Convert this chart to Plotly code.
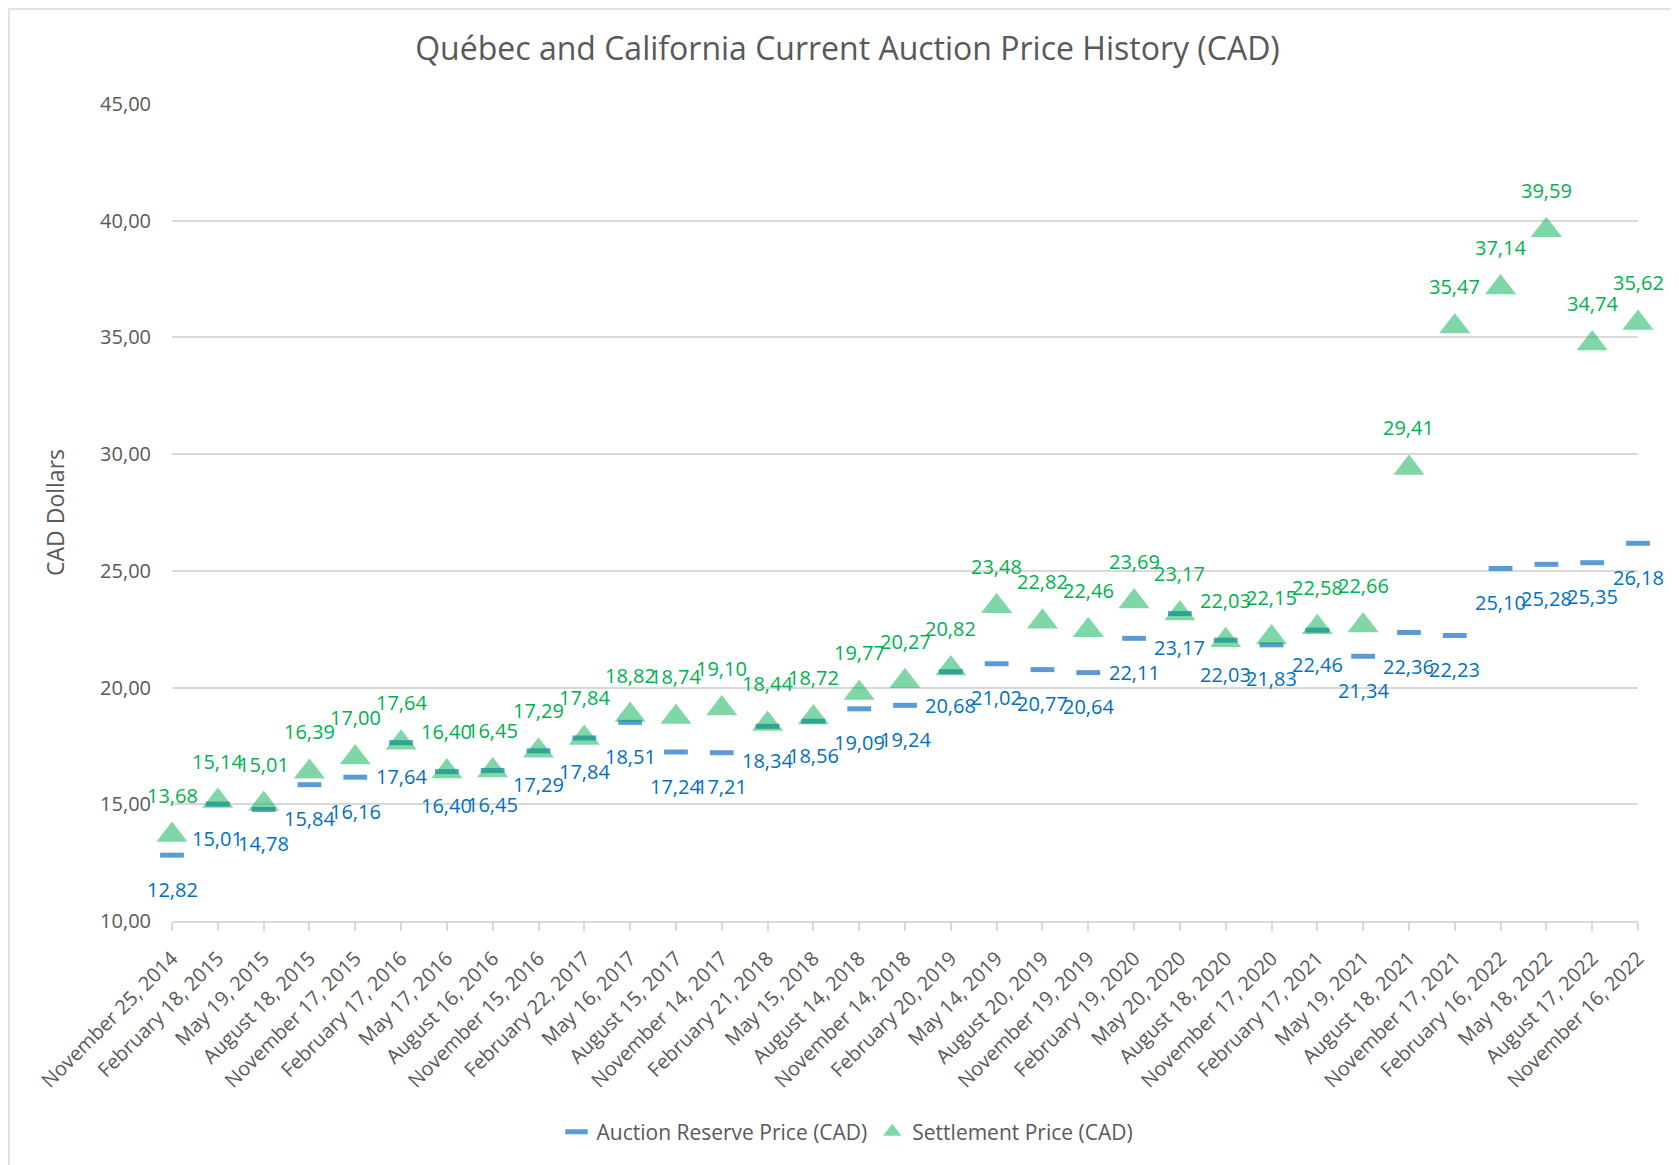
import plotly.graph_objects as go

dates = [
    "November 25, 2014", "February 18, 2015", "May 19, 2015", "August 18, 2015",
    "November 17, 2015", "February 17, 2016", "May 17, 2016", "August 16, 2016",
    "November 15, 2016", "February 22, 2017", "May 16, 2017", "August 15, 2017",
    "November 14, 2017", "February 21, 2018", "May 15, 2018", "August 14, 2018",
    "November 14, 2018", "February 20, 2019", "May 14, 2019", "August 20, 2019",
    "November 19, 2019", "February 19, 2020", "May 20, 2020", "August 18, 2020",
    "November 17, 2020", "February 17, 2021", "May 19, 2021", "August 18, 2021",
    "November 17, 2021", "February 16, 2022", "May 18, 2022", "August 17, 2022",
    "November 16, 2022",
]

reserve_price = [
    12.82, 15.01, 14.78, 15.84, 16.16, 17.64, 16.40, 16.45, 17.29, 17.84,
    18.51, 17.24, 17.21, 18.34, 18.56, 19.09, 19.24, 20.68, 21.02, 20.77,
    20.64, 22.11, 23.17, 22.03, 21.83, 22.46, 21.34, 22.36, 22.23, 25.10,
    25.28, 25.35, 26.18,
]

settlement_price = [
    13.68, 15.14, 15.01, 16.39, 17.00, 17.64, 16.40, 16.45, 17.29, 17.84,
    18.82, 18.74, 19.10, 18.44, 18.72, 19.77, 20.27, 20.82, 23.48, 22.82,
    22.46, 23.69, 23.17, 22.03, 22.15, 22.58, 22.66, 29.41, 35.47, 37.14,
    39.59, 34.74, 35.62,
]

FONT = "Open Sans"
GREY = "#595959"
RES_COLOR = "#5B9BD5"
RES_LABEL = "#0070C0"
SET_COLOR = "#00B050"


def fmt(v):
    return f"{v:.2f}".replace(".", ",")


fig = go.Figure()

fig.add_trace(go.Scatter(
    x=dates, y=reserve_price, mode="markers",
    name="Auction Reserve Price (CAD)", cliponaxis=False,
    marker=dict(symbol="line-ew", size=17, color=RES_COLOR,
                line=dict(color=RES_COLOR, width=5)),
))

fig.add_trace(go.Scatter(
    x=dates, y=settlement_price, mode="markers",
    name="Settlement Price (CAD)", cliponaxis=False,
    marker=dict(symbol="triangle-up", size=27, color=SET_COLOR, opacity=0.5,
                line=dict(width=0)),
))

annotations = []
for d, v in zip(dates, reserve_price):
    annotations.append(dict(
        x=d, y=v, xref="x", yref="y", text=fmt(v), showarrow=False,
        yshift=-34, yanchor="middle", xanchor="center",
        font=dict(family=FONT, size=20, color=RES_LABEL),
    ))
for d, v in zip(dates, settlement_price):
    annotations.append(dict(
        x=d, y=v, xref="x", yref="y", text=fmt(v), showarrow=False,
        yshift=40, yanchor="middle", xanchor="center",
        font=dict(family=FONT, size=20, color=SET_COLOR),
    ))

# page has an 8px body margin; target plot area in page pixels: x 172..1638, y 104..921
OFF = 8
L, R, T, B = 172 - OFF, 41 + OFF, 104 - OFF, 244 + OFF
W, H = 1679, 1165
pw = W - L - R
ph = H - T - B

fig.update_layout(
    width=W, height=H,
    margin=dict(l=L, r=R, t=T, b=B, autoexpand=False),
    paper_bgcolor="white", plot_bgcolor="white",
    separators=",.",
    font=dict(family=FONT, size=20, color=GREY),
    title=dict(
        text="Québec and California Current Auction Price History (CAD)",
        x=0.5, xref="container", xanchor="center",
        y=1 - (49 - OFF) / H, yref="container", yanchor="middle",
        font=dict(family=FONT, size=32, color=GREY),
    ),
    xaxis=dict(
        type="category", range=[0, len(dates) - 1],
        tickangle=-45, tickfont=dict(family=FONT, size=20, color=GREY),
        showgrid=False, showline=True, linecolor="#D9D9D9", linewidth=1.5,
        ticks="outside", ticklen=8, tickcolor="#D9D9D9", tickwidth=1.5,
        zeroline=False, ticklabelstandoff=8,
    ),
    yaxis=dict(
        range=[10, 45], dtick=5, tick0=10, tickformat=".2f",
        showgrid=True, gridcolor="#D9D9D9", gridwidth=1.5,
        zeroline=False, showline=False,
        tickfont=dict(family=FONT, size=20, color=GREY),
        ticklabelstandoff=20,
        title=dict(text="CAD Dollars", standoff=29,
                   font=dict(family=FONT, size=23, color=GREY)),
    ),
    legend=dict(
        orientation="h", x=0.5, xref="container", xanchor="center",
        y=1 - (1132 - OFF) / H, yref="container", yanchor="middle",
        font=dict(family=FONT, size=21, color=GREY),
        itemwidth=30, tracegroupgap=0,
    ),
    annotations=annotations,
    showlegend=True,
    shapes=[dict(
        type="rect", xref="paper", yref="paper",
        x0=(1 - L) / pw, x1=(W + 30 - L) / pw,
        y0=(ph + T - (H + 30)) / ph, y1=(ph + T - 1) / ph,
        line=dict(color="#D9D9D9", width=1.5), fillcolor="rgba(0,0,0,0)",
        layer="below",
    )],
)

fig.write_html("out.html")
